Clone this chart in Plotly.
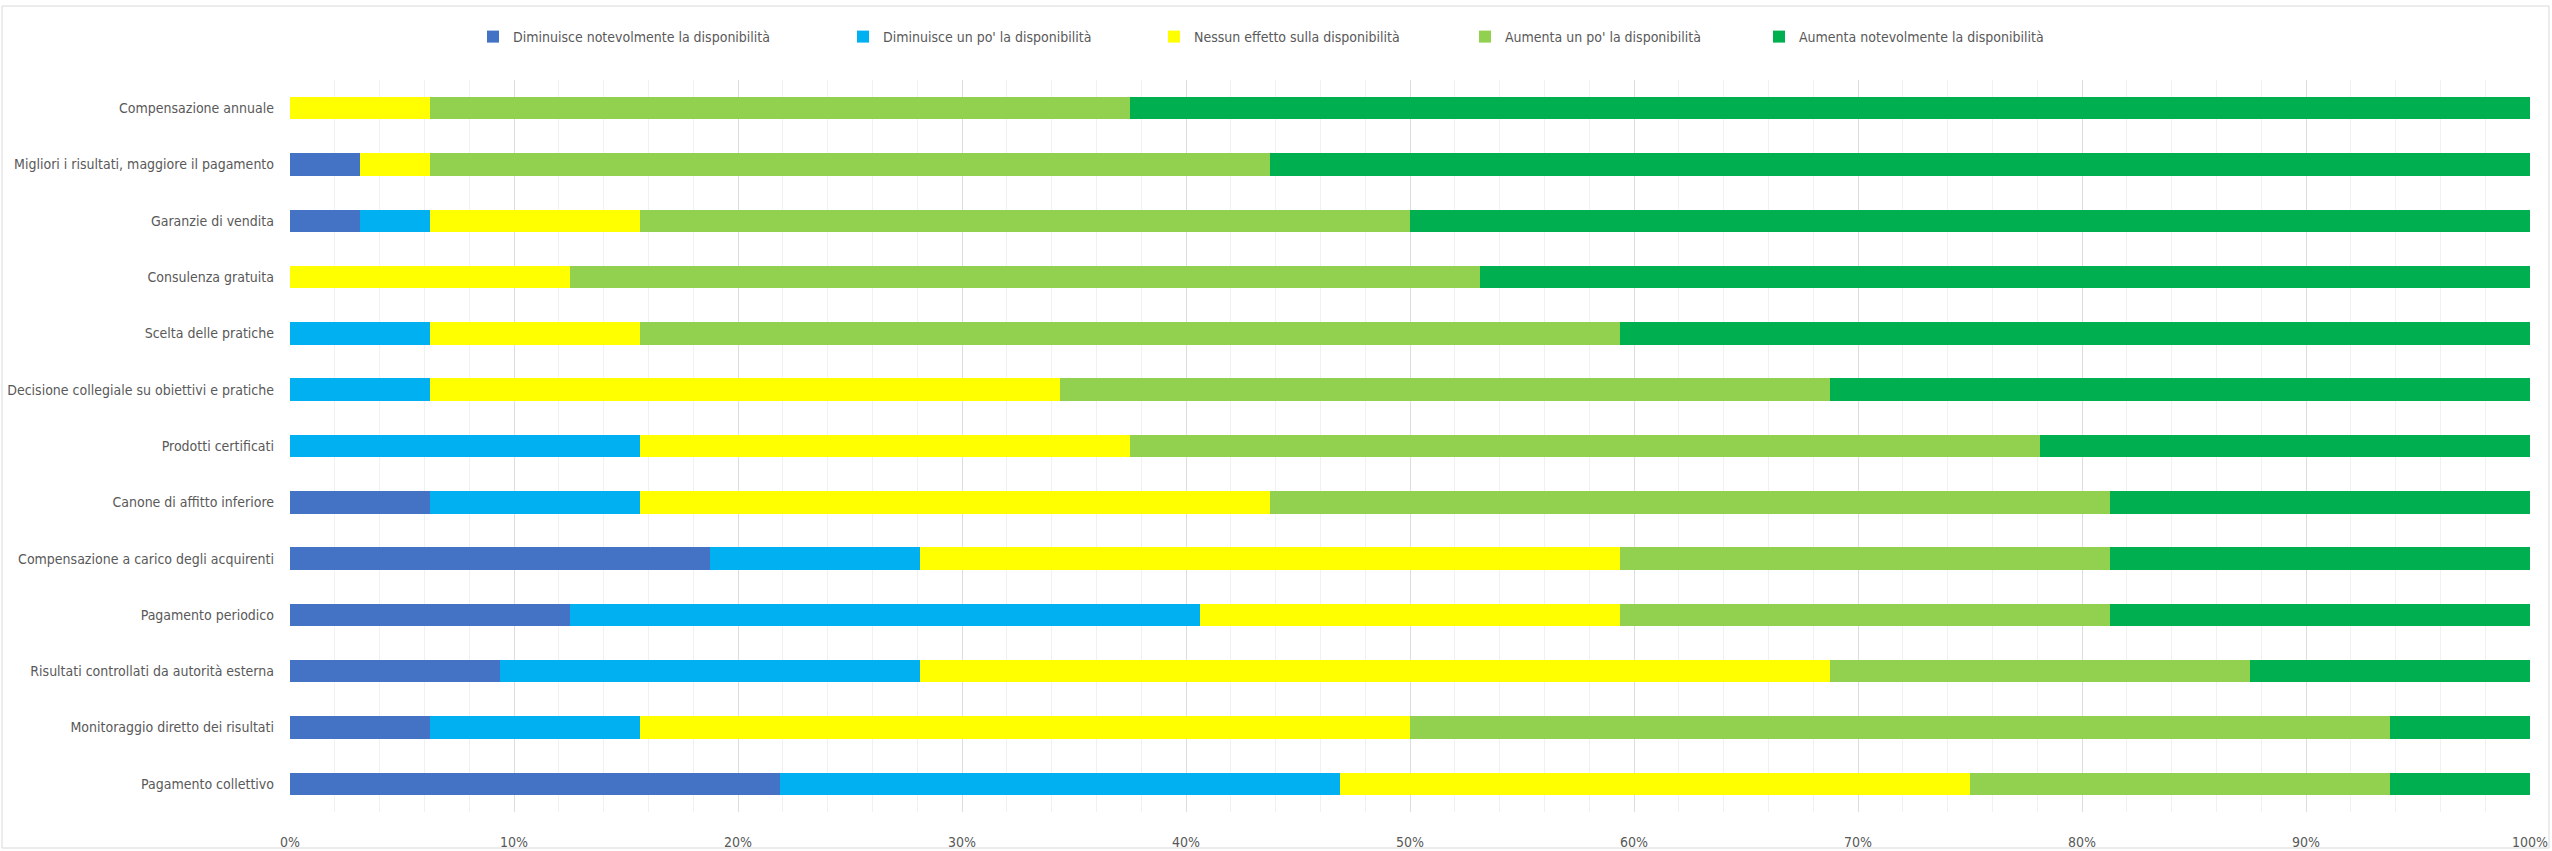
import plotly.graph_objects as go

categories = [
    "Compensazione annuale",
    "Migliori i risultati, maggiore il pagamento",
    "Garanzie di vendita",
    "Consulenza gratuita",
    "Scelta delle pratiche",
    "Decisione collegiale su obiettivi e pratiche",
    "Prodotti certificati",
    "Canone di affitto inferiore",
    "Compensazione a carico degli acquirenti",
    "Pagamento periodico",
    "Risultati controllati da autorità esterna",
    "Monitoraggio diretto dei risultati",
    "Pagamento collettivo",
]

series_names = [
    "Diminuisce notevolmente la disponibilità",
    "Diminuisce un po' la disponibilità",
    "Nessun effetto sulla disponibilità",
    "Aumenta un po' la disponibilità",
    "Aumenta notevolmente la disponibilità",
]

dim_notevole = [0, 3.125, 3.125, 0, 0, 0, 0, 6.25, 18.75, 12.5, 9.375, 6.25, 21.875]
dim_poco = [0, 0, 3.125, 0, 6.25, 6.25, 15.625, 9.375, 9.375, 28.125, 18.75, 9.375, 25.0]
nessun_effetto = [6.25, 3.125, 9.375, 12.5, 9.375, 28.125, 21.875, 28.125, 31.25, 18.75, 40.625, 34.375, 28.125]
aum_poco = [31.25, 37.5, 34.375, 40.625, 43.75, 34.375, 40.625, 37.5, 21.875, 21.875, 18.75, 43.75, 18.75]
aum_notevole = [62.5, 56.25, 50.0, 46.875, 40.625, 31.25, 21.875, 18.75, 18.75, 18.75, 12.5, 6.25, 6.25]

series_values = [dim_notevole, dim_poco, nessun_effetto, aum_poco, aum_notevole]
colors = ["#4472C4", "#00B0F0", "#FFFF00", "#92D050", "#00B050"]

x_ticks = list(range(0, 101, 10))
x_tick_labels = [f"{t}%" for t in x_ticks]

FONT = "Liberation Sans Narrow, Arial Narrow, DejaVu Sans Condensed, sans-serif"
TXT = "#595959"
FS = 14

W, H = 2552, 851
L, R, T, B = 290, 22, 80, 39
PW, PH = W - L - R, H - T - B

# legend entry anchor positions (pixels from left edge of the figure)
legend_px = [473, 843, 1154, 1465, 1759]

fig = go.Figure()
legend_layouts = {}
for i, (name, vals, col) in enumerate(zip(series_names, series_values, colors)):
    key = "legend" if i == 0 else f"legend{i + 1}"
    fig.add_trace(go.Bar(
        y=categories, x=vals, name=name, orientation="h",
        marker=dict(color=col, line=dict(width=0)),
        legend=key, showlegend=True,
    ))
    legend_layouts[key] = dict(
        orientation="h", x=(legend_px[i] - L) / PW, xanchor="left",
        y=1 + (T - 37) / PH, yanchor="middle",
        font=dict(family=FONT, size=FS, color=TXT),
        itemwidth=30, bgcolor="rgba(0,0,0,0)",
    )

fig.update_layout(
    width=W, height=H, showlegend=True,
    barmode="stack", bargap=0.6,
    margin=dict(l=L, r=R, t=T, b=B, pad=0),
    paper_bgcolor="#FFFFFF", plot_bgcolor="#FFFFFF",
    font=dict(family=FONT, size=FS, color=TXT),
    xaxis=dict(
        range=[0, 100], tickvals=x_ticks, ticktext=x_tick_labels,
        showgrid=True, gridcolor="#DDDDDD", gridwidth=1,
        minor=dict(dtick=2, showgrid=True, gridcolor="#F1F1F1", gridwidth=1),
        zeroline=False, showline=False, ticks="",
        ticklabelstandoff=20, automargin=False,
        tickfont=dict(family=FONT, size=FS, color=TXT),
    ),
    yaxis=dict(
        categoryorder="array", categoryarray=categories, autorange="reversed",
        showgrid=False, zeroline=False, showline=False, ticks="",
        ticklabelstandoff=15, automargin=False,
        tickfont=dict(family=FONT, size=FS, color=TXT),
    ),
    shapes=[dict(
        type="rect", xref="paper", yref="paper",
        x0=(2 - L) / PW, x1=(W - 3 - L) / PW,
        y0=-(B - 3) / PH, y1=1 + (T - 6) / PH,
        line=dict(color="#D9D9D9", width=1), layer="below",
    )],
    **legend_layouts,
)

fig.write_html(
    "out.html",
    config={"displayModeBar": False},
    post_script="document.body.style.margin='0';document.body.style.overflow='hidden';",
)
